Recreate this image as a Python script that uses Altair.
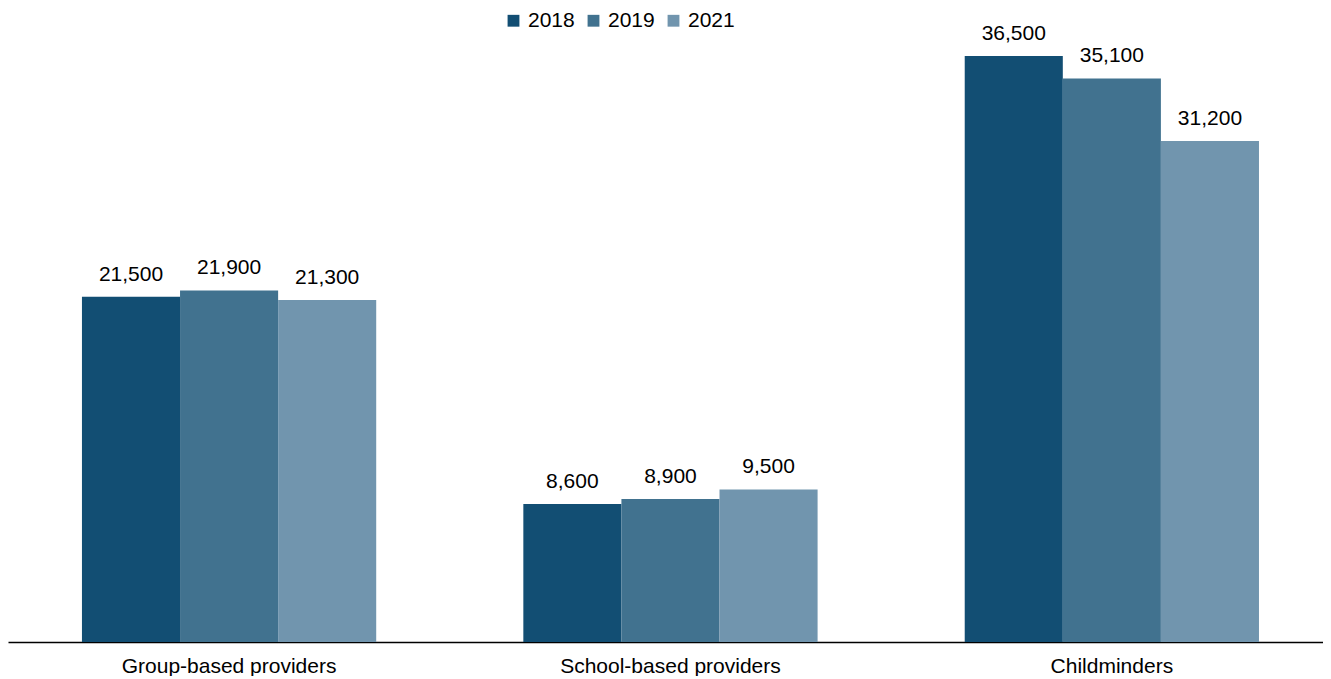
import altair as alt
import pandas as pd

categories = ["Group-based providers", "School-based providers", "Childminders"]
years = ["2018", "2019", "2021"]
values_2018 = [21500, 8600, 36500]
values_2019 = [21900, 8900, 35100]
values_2021 = [21300, 9500, 31200]
colors = ["#124E73", "#41728F", "#7195AE"]

rows = []
for yr, vals in zip(years, [values_2018, values_2019, values_2021]):
    for c, v in zip(categories, vals):
        rows.append({"category": c, "year": yr, "value": v})
df = pd.DataFrame(rows)

FONT = "Liberation Sans"
FS = 21

x = alt.X("category:N", sort=categories, title=None,
          scale=alt.Scale(paddingInner=1/3, paddingOuter=0.1563, align=0.536),
          axis=alt.Axis(labelAngle=0, ticks=False, domainColor="#000000", domainWidth=1.5,
                        labelFont=FONT, labelFontSize=FS, labelColor="#000000",
                        labelPadding=13, labelLimit=0, grid=False))
xo = alt.XOffset("year:N", sort=years, scale=alt.Scale(paddingInner=0, paddingOuter=0))
y = alt.Y("value:Q", title=None, scale=alt.Scale(domain=[0, 39490], nice=False),
          axis=None)

bars = alt.Chart(df).mark_bar().encode(
    x=x, xOffset=xo, y=y,
    color=alt.Color("year:N", sort=years, scale=alt.Scale(domain=years, range=colors),
                    legend=alt.Legend(title=None, orient="none", direction="horizontal",
                                      legendX=495, legendY=2, symbolType="square",
                                      symbolSize=140, symbolStrokeWidth=0,
                                      labelFont=FONT, labelFontSize=FS, labelColor="#000000",
                                      columnPadding=8, labelOffset=4)),
)

labels = alt.Chart(df).mark_text(baseline="bottom", dy=-12, font=FONT, fontSize=FS,
                                 color="#000000").encode(
    x=x, xOffset=xo, y=y,
    text=alt.Text("value:Q", format=",")
)

chart = alt.layer(bars, labels).properties(
    width=1315, height=634, padding=0, background="white"
).configure_view(stroke=None, strokeWidth=0)

chart.save("out.html", embed_options={"renderer": "svg", "actions": False})
